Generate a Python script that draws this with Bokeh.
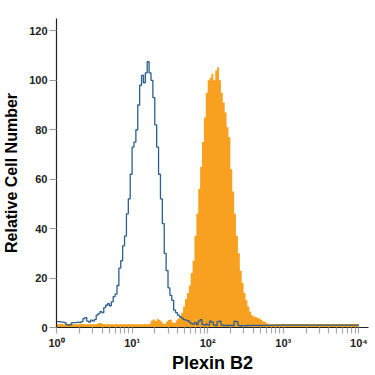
import numpy as np
from bokeh.plotting import figure
from bokeh.models import Range1d, FixedTicker
from bokeh.embed import file_html
from bokeh.resources import INLINE

# Histogram channels: 0.025 decade wide, from 10^0 to 10^4
BIN_WIDTH = 0.025

# Isotype control (outline), cell counts per channel
isotype = [
    2.4, 2.4, 2.2, 2.2, 2.0, 1.2, 1.0, 1.2, 2.0, 2.0,
    2.0, 2.2, 2.0, 2.4, 3.6, 4.0, 2.6, 2.2, 3.0, 2.6,
    3.2, 5.0, 5.6, 6.4, 6.0, 8.0, 9.0, 9.6, 8.8, 10.4,
    12.5, 13.5, 17, 24, 27, 33, 37, 46, 52, 62,
    73, 75, 80, 90, 98, 102, 99, 103, 107.5, 103,
    100, 93, 82, 73, 62, 52, 42, 30, 23, 16,
    13, 11, 7, 6, 5, 4.4, 3.8, 3.2, 3.0, 2.8,
    2.2, 1.6, 1.4, 2.0, 1.2, 2.6, 3.2, 1.2, 1.0, 1.4,
    1.0, 2.6, 2.2, 1.0, 0.8, 2.4, 2.6, 1.0, 0.8, 0.8,
    0.8, 0.8, 0.8, 0.8, 2.6, 2.4, 0.8, 0.7, 0.7, 0.7,
    0.8, 0.8, 0.9, 0.8, 0.8, 0.9, 0.9, 0.8, 0.8, 0.9,
    0.9, 0.9, 1.0, 0.9, 0.9, 1.0, 1.0, 0.9, 1.0, 1.0,
    1.0, 1.0, 1.0, 1.0, 1.0, 1.0, 1.0, 1.0, 1.0, 1.0,
    1.0, 1.0, 1.0, 1.0, 1.0, 1.0, 1.0, 1.0, 1.0, 1.0,
    1.0, 1.0, 1.0, 1.0, 1.0, 1.0, 1.0, 1.0, 1.0, 1.0,
    1.0, 1.0, 1.0, 1.0, 1.0, 1.0, 1.0, 1.0, 1.0, 1.0,
]

# Plexin B2 stained cells (filled), cell counts per channel
plexin_b2 = [
    1.3, 1.3, 1.4, 1.3, 1.3, 1.3, 1.4, 1.6, 1.4, 1.3,
    1.3, 1.3, 1.4, 1.4, 1.3, 1.3, 1.3, 1.3, 1.3, 1.3,
    1.3, 1.4, 1.8, 1.8, 1.4, 1.3, 1.3, 1.3, 1.3, 1.3,
    1.3, 1.3, 1.3, 1.3, 1.3, 1.3, 1.3, 1.3, 1.3, 1.3,
    1.3, 1.3, 1.3, 1.3, 1.3, 1.3, 1.4, 1.3, 1.3, 1.6,
    2.8, 3.2, 2.6, 3.4, 3.0, 2.4, 1.6, 1.4, 2.4, 3.0,
    3.2, 2.0, 1.8, 2.8, 3.6, 4.2, 6.0, 8.5, 11.5, 14,
    17, 22, 27, 37, 46, 56, 65, 75, 85, 95,
    100, 101, 102.7, 100, 104, 105.3, 100, 95, 91, 87,
    81, 77, 64, 55, 46, 37, 30, 23, 18, 14,
    11, 8.5, 6.5, 5.0, 4.4, 4.2, 3.8, 3.6, 3.0, 2.4,
    2.2, 1.6, 1.4, 1.3, 1.4, 1.3, 1.4, 1.4, 1.3, 1.4,
    1.4, 1.4, 1.4, 1.4, 1.4, 1.4, 1.4, 1.4, 1.4, 1.4,
    1.4, 1.4, 1.4, 1.4, 1.4, 1.4, 1.4, 1.4, 1.4, 1.4,
    1.4, 1.4, 1.4, 1.4, 1.4, 1.4, 1.4, 1.4, 1.4, 1.4,
    1.4, 1.4, 1.4, 1.4, 1.4, 1.4, 1.4, 1.4, 1.4, 1.4,
]

decade_ticks = [1, 10, 100, 1000, 10000]
decade_labels = ["10⁰", "10¹", "10²", "10³", "10⁴"]
count_ticks = [0, 20, 40, 60, 80, 100, 120]

edges = 10 ** (np.arange(len(isotype) + 1) * BIN_WIDTH)
minor = [m * 10 ** d for d in range(4) for m in range(2, 10)]

p = figure(width=375, height=375, x_axis_type="log",
           x_range=Range1d(1, 13400), y_range=Range1d(0, 125),
           output_backend="svg", toolbar_location=None)
p.min_border_left = 56
p.min_border_right = 7
p.min_border_top = 18
p.min_border_bottom = 46
p.outline_line_color = None
p.xgrid.visible = False
p.ygrid.visible = False
p.background_fill_color = "white"
p.border_fill_color = "white"

# Filled histogram for stained cells: one closed step-shaped polygon
counts = np.asarray(plexin_b2, dtype=float)
px = np.concatenate([[edges[0]], np.repeat(edges[1:-1], 2), [edges[-1]]])
py = np.repeat(counts, 2)
poly_x = np.concatenate([[edges[0]], px, [edges[-1]]])
poly_y = np.concatenate([[0.0], py, [0.0]])
p.patch(poly_x, poly_y, fill_color="#f8a01f", fill_alpha=1.0, line_color=None)

# Outline histogram for isotype control
p.step(x=edges, y=isotype + [isotype[-1]], mode="after",
       line_color="#2b5f8e", line_width=1.3)

FONT = "Liberation Sans"

xa = p.xaxis[0]
xa.ticker = FixedTicker(ticks=decade_ticks, minor_ticks=minor)
xa.major_label_overrides = {t: l for t, l in zip(decade_ticks, decade_labels)}
xa.axis_label = "Plexin B2"
xa.axis_label_text_font = FONT
xa.axis_label_text_font_size = "18px"
xa.axis_label_text_font_style = "bold"
xa.axis_label_text_color = "black"
xa.axis_label_standoff = 1
xa.major_label_text_font = FONT
xa.major_label_text_font_size = "11px"
xa.major_label_text_font_style = "bold"
xa.major_label_text_color = "#222222"
xa.major_label_standoff = 3
xa.axis_line_color = "#222222"
xa.axis_line_width = 1.2
xa.major_tick_line_color = "#aaaaaa"
xa.minor_tick_line_color = "#aaaaaa"
xa.major_tick_in = 0
xa.major_tick_out = 6
xa.minor_tick_in = 0
xa.minor_tick_out = 6
xa.major_tick_line_width = 1.2
xa.minor_tick_line_width = 1.2

ya = p.yaxis[0]
ya.ticker = FixedTicker(ticks=count_ticks)
ya.axis_label = "Relative Cell Number"
ya.axis_label_text_font = FONT
ya.axis_label_text_font_size = "16px"
ya.axis_label_text_font_style = "bold"
ya.axis_label_text_color = "black"
ya.axis_label_standoff = 6
ya.major_label_text_font = FONT
ya.major_label_text_font_size = "11px"
ya.major_label_text_font_style = "bold"
ya.major_label_text_color = "#222222"
ya.major_label_standoff = 2
ya.axis_line_color = "#222222"
ya.axis_line_width = 1.2
ya.major_tick_line_color = "#999999"
ya.major_tick_in = 0
ya.major_tick_out = 7
ya.minor_tick_line_color = None

open("out.html", "w").write(file_html(p, INLINE))
